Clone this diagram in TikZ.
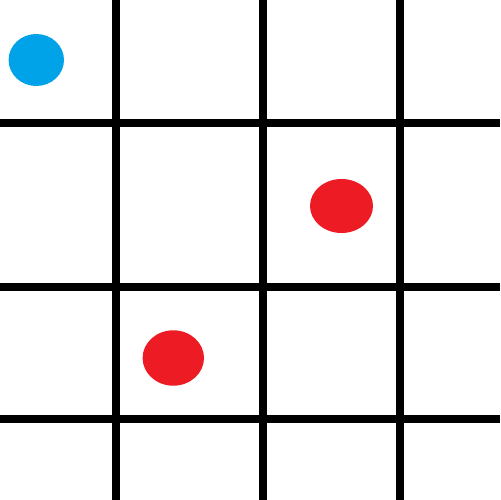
\documentclass[tikz,border=0pt]{standalone}
\definecolor{dotblue}{RGB}{0,162,232}
\definecolor{dotred}{RGB}{237,28,36}
\tikzset{gridline/.style={line width=0.16cm,black},
  dot/.style={}}
\begin{document}
\begin{tikzpicture}[x=0.02cm,y=-0.02cm]
\useasboundingbox (0,0) rectangle (500,500);
\fill[white] (0,0) rectangle (500,500);
\coordinate (v1t) at (116,0); \coordinate (v1b) at (116,500);
\coordinate (v2t) at (263,0); \coordinate (v2b) at (263,500);
\coordinate (v3t) at (400,0); \coordinate (v3b) at (400,500);
\coordinate (h1l) at (0,123); \coordinate (h1r) at (500,123);
\coordinate (h2l) at (0,287); \coordinate (h2r) at (500,287);
\coordinate (h3l) at (0,419); \coordinate (h3r) at (500,419);
\draw[gridline] (v1t) -- (v1b);
\draw[gridline] (v2t) -- (v2b);
\draw[gridline] (v3t) -- (v3b);
\draw[gridline] (h1l) -- (h1r);
\draw[gridline] (h2l) -- (h2r);
\draw[gridline] (h3l) -- (h3r);
\fill[dotblue] (36.3,60) ellipse [x radius=27.7, y radius=26];
\fill[dotred] (341.5,206) ellipse [x radius=31.5, y radius=27];
\fill[dotred] (173.3,358) ellipse [x radius=30.7, y radius=27.7];
\end{tikzpicture}
\end{document}
